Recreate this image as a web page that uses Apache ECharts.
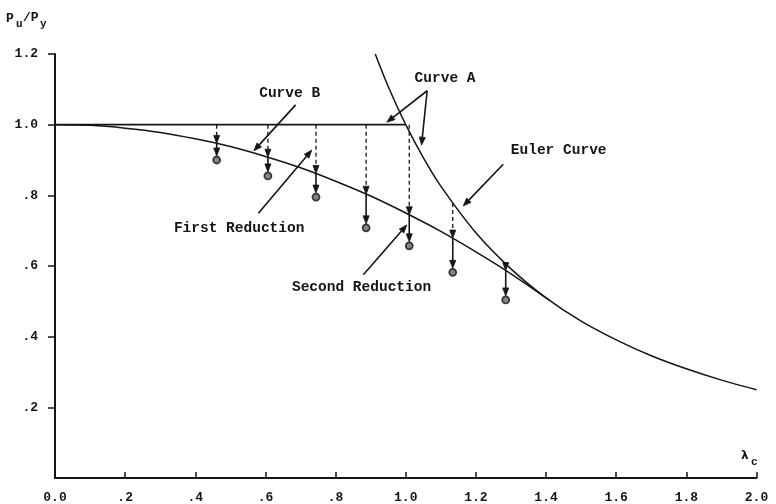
<!DOCTYPE html>
<html><head><meta charset="utf-8">
<script src="https://cdn.jsdelivr.net/npm/echarts@6/dist/echarts.min.js"></script>
<style>html,body{margin:0;padding:0;background:#fff}#c{width:776px;height:504px}</style>
</head><body><div id="c"></div>
<script>
// ---- data ----
const xTickLabels = ['0.0', '.2', '.4', '.6', '.8', '1.0', '1.2', '1.4', '1.6', '1.8', '2.0'];
const yTickLabels = ['', '.2', '.4', '.6', '.8', '1.0', '1.2'];
const yTickValues = [0.2, 0.4, 0.6, 0.8, 1.0, 1.2];

// Curve A, horizontal plateau part
const lambdaA = [0, 1.0];
const curveA = [1.0, 1.0];

// Curve B (lower curve)
const lambdaB = [0, 0.1, 0.2, 0.3, 0.4, 0.5, 0.6, 0.7, 0.8, 0.9, 1.0, 1.1, 1.2, 1.3, 1.41];
const curveB = [1.0, 0.998, 0.99, 0.978, 0.96, 0.938, 0.91, 0.878, 0.84, 0.798, 0.75, 0.698, 0.64, 0.578, 0.503];

// Euler curve
const lambdaEuler = [0.913, 0.95, 1.0, 1.05, 1.1, 1.2, 1.3, 1.4, 1.5, 1.6, 1.7, 1.8, 1.9, 2.0];
const euler = [1.2, 1.108, 1.0, 0.907, 0.826, 0.694, 0.592, 0.510, 0.444, 0.391, 0.346, 0.309, 0.277, 0.25];

// Reduction points
const testLambda = [0.461, 0.607, 0.744, 0.887, 1.010, 1.134, 1.285];
const testTop = [1.0, 1.0, 1.0, 1.0, 1.0, 0.778, 0.606];
const testFirst = [0.947, 0.908, 0.862, 0.803, 0.745, 0.679, 0.587];
const testResult = [0.900, 0.855, 0.795, 0.708, 0.657, 0.582, 0.504];

// Annotations
const labelTexts = ['Curve B', 'Curve A', 'Euler Curve', 'First Reduction', 'Second Reduction'];
const labelX = [0.669, 1.112, 1.436, 0.525, 0.874];
const labelY = [1.090, 1.131, 0.926, 0.707, 0.541];
const pointerFromX = [0.686, 1.061, 1.061, 1.278, 0.580, 0.879];
const pointerFromY = [1.056, 1.096, 1.096, 0.888, 0.749, 0.575];
const pointerToX = [0.567, 0.946, 1.045, 1.164, 0.732, 1.003];
const pointerToY = [0.926, 1.007, 0.942, 0.770, 0.928, 0.716];

// ---- chart ----
const INK = '#151515';
const MONO = '"Liberation Mono", "DejaVu Sans Mono", monospace';

const zip = (xs, ys) => xs.map((x, i) => [x, ys[i]]);

// arrows: [x1, y1, x2, y2, dashed(1/0), gapPx]
const arrowData = [];
testLambda.forEach((x, i) => {
  arrowData.push([x, testTop[i], x, testFirst[i], 1, 0]);
  arrowData.push([x, testFirst[i], x, testResult[i], 0, 4]);
});
pointerFromX.forEach((x, i) => {
  arrowData.push([x, pointerFromY[i], pointerToX[i], pointerToY[i], 0, 0]);
});

function renderArrow(params, api) {
  const p1 = api.coord([api.value(0), api.value(1)]);
  let p2 = api.coord([api.value(2), api.value(3)]);
  const dashed = api.value(4) === 1;
  const gap = api.value(5);
  const dx = p2[0] - p1[0], dy = p2[1] - p1[1];
  const len = Math.sqrt(dx * dx + dy * dy) || 1;
  const ux = dx / len, uy = dy / len;
  p2 = [p2[0] - ux * gap, p2[1] - uy * gap];
  const headL = 8, headW = 3;
  const base = [p2[0] - ux * headL, p2[1] - uy * headL];
  const nx = -uy, ny = ux;
  return {
    type: 'group',
    children: [
      { type: 'line', shape: { x1: p1[0], y1: p1[1], x2: base[0], y2: base[1] },
        style: { stroke: INK, lineWidth: dashed ? 1.3 : 1.6, lineDash: dashed ? [4, 3] : null } },
      { type: 'polygon', shape: { points: [p2, [base[0] + nx * headW, base[1] + ny * headW], [base[0] - nx * headW, base[1] - ny * headW]] },
        style: { fill: INK, stroke: INK, lineWidth: 0.8 } }
    ]
  };
}

function renderLabel(params, api) {
  const p = api.coord([api.value(0), api.value(1)]);
  return {
    type: 'text',
    x: p[0], y: p[1],
    style: { text: labelTexts[params.dataIndex], fill: INK, font: 'bold 14.5px ' + MONO, align: 'center', verticalAlign: 'middle' }
  };
}

const chart = echarts.init(document.getElementById('c'), null, { renderer: 'canvas' });
chart.setOption({
  backgroundColor: '#ffffff',
  animation: false,
  grid: { left: 55, right: 19.5, top: 54, bottom: 26, containLabel: false },
  xAxis: {
    type: 'value', min: 0, max: 2.0, interval: 0.2,
    axisLine: { show: true, onZero: false, lineStyle: { color: INK, width: 2 } },
    axisTick: { show: true, inside: true, length: 6, lineStyle: { color: INK, width: 1.5 } },
    splitLine: { show: false },
    axisLabel: {
      margin: 13, color: INK, fontFamily: MONO, fontWeight: 'bold', fontSize: 13,
      formatter: (v) => xTickLabels[Math.round(v / 0.2)]
    }
  },
  yAxis: {
    type: 'value', min: 0, max: 1.2, interval: 0.2,
    axisLine: { show: true, onZero: false, lineStyle: { color: INK, width: 2 } },
    axisTick: { show: true, inside: false, length: 7, customValues: yTickValues, lineStyle: { color: INK, width: 1.5 } },
    splitLine: { show: false },
    axisLabel: {
      margin: 17, color: INK, fontFamily: MONO, fontWeight: 'bold', fontSize: 13,
      formatter: (v) => yTickLabels[Math.round(v / 0.2)]
    }
  },
  graphic: [
    { type: 'text', left: 6, top: 12, style: { text: 'P', font: 'bold 13px ' + MONO, fill: INK } },
    { type: 'text', left: 16, top: 19, style: { text: 'u', font: 'bold 11px ' + MONO, fill: INK } },
    { type: 'text', left: 23, top: 11, style: { text: '/P', font: 'bold 13px ' + MONO, fill: INK } },
    { type: 'text', left: 40, top: 19, style: { text: 'y', font: 'bold 11px ' + MONO, fill: INK } },
    { type: 'text', left: 741, top: 450, style: { text: 'λ', font: 'bold 12px "DejaVu Sans", sans-serif', fill: INK } },
    { type: 'text', left: 751, top: 457, style: { text: 'c', font: 'bold 11px ' + MONO, fill: INK } }
  ],
  series: [
    { name: 'Curve A', type: 'line', data: zip(lambdaA, curveA), showSymbol: false,
      lineStyle: { color: INK, width: 1.6 }, z: 3 },
    { name: 'Curve B', type: 'line', data: zip(lambdaB, curveB), showSymbol: false, smooth: 0.3,
      lineStyle: { color: INK, width: 1.5 }, z: 3 },
    { name: 'Euler Curve', type: 'line', data: zip(lambdaEuler, euler), showSymbol: false, smooth: 0.3,
      lineStyle: { color: INK, width: 1.5 }, z: 3 },
    { name: 'Arrows', type: 'custom', data: arrowData, renderItem: renderArrow,
      encode: { x: [0, 2], y: [1, 3] }, clip: false, z: 4 },
    { name: 'Results', type: 'scatter', data: zip(testLambda, testResult), symbol: 'circle', symbolSize: 7,
      itemStyle: { color: '#666', borderColor: INK, borderWidth: 1.8 }, z: 5 },
    { name: 'Labels', type: 'custom', data: zip(labelX, labelY), renderItem: renderLabel,
      encode: { x: 0, y: 1 }, clip: false, z: 6 }
  ]
});
</script>
</body></html>
